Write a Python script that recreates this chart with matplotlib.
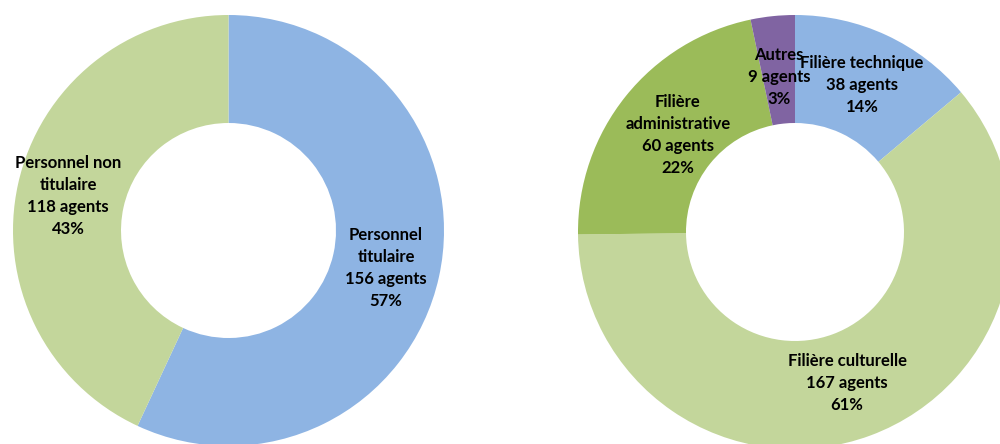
import matplotlib.pyplot as plt

plt.rcParams['font.family'] = ['Lato', 'DejaVu Sans']

# statut
statut_labels = ['Personnel\ntitulaire', 'Personnel non\ntitulaire']
statut_agents = [156, 118]
statut_pct = [57, 43]
statut_colors = ['#8EB4E3', '#C3D69B']

# filières (clockwise from 12 o'clock)
filiere_labels = ['Filière technique', 'Filière culturelle', 'Filière\nadministrative', 'Autres']
filiere_agents = [38, 167, 60, 9]
filiere_pct = [14, 61, 22, 3]
filiere_colors = ['#8EB4E3', '#C3D69B', '#9BBB59', '#8064A2']

fig = plt.figure(figsize=(10, 4.44), dpi=100)
ax = fig.add_axes([0, 0, 1, 1])

ax.pie(statut_agents, colors=statut_colors, startangle=90, counterclock=False,
       center=(228.5, 444 - 230.5), radius=215.5,
       wedgeprops=dict(width=108, linewidth=0))
ax.pie(filiere_agents, colors=filiere_colors, startangle=90, counterclock=False,
       center=(795, 444 - 232), radius=217,
       wedgeprops=dict(width=108, linewidth=0))

ax.set_xlim(0, 1000)
ax.set_ylim(0, 444)
ax.set_aspect('equal')
ax.axis('off')

txt = dict(ha='center', va='center', fontsize=12, fontweight='bold',
           color='black', linespacing=1.45)

# label positions in pixels from top-left
statut_pos = [(386, 268), (68, 196)]
for lab, n, p, (x, y) in zip(statut_labels, statut_agents, statut_pct, statut_pos):
    ax.text(x, 444 - y, f"{lab}\n{n} agents\n{p}%", **txt)

filiere_pos = [(862, 85), (847, 383), (678, 135), (779, 77)]
for lab, n, p, (x, y) in zip(filiere_labels, filiere_agents, filiere_pct, filiere_pos):
    ax.text(x, 444 - y, f"{lab}\n{n} agents\n{p}%", **txt)

fig.savefig('out.png', dpi=100)
